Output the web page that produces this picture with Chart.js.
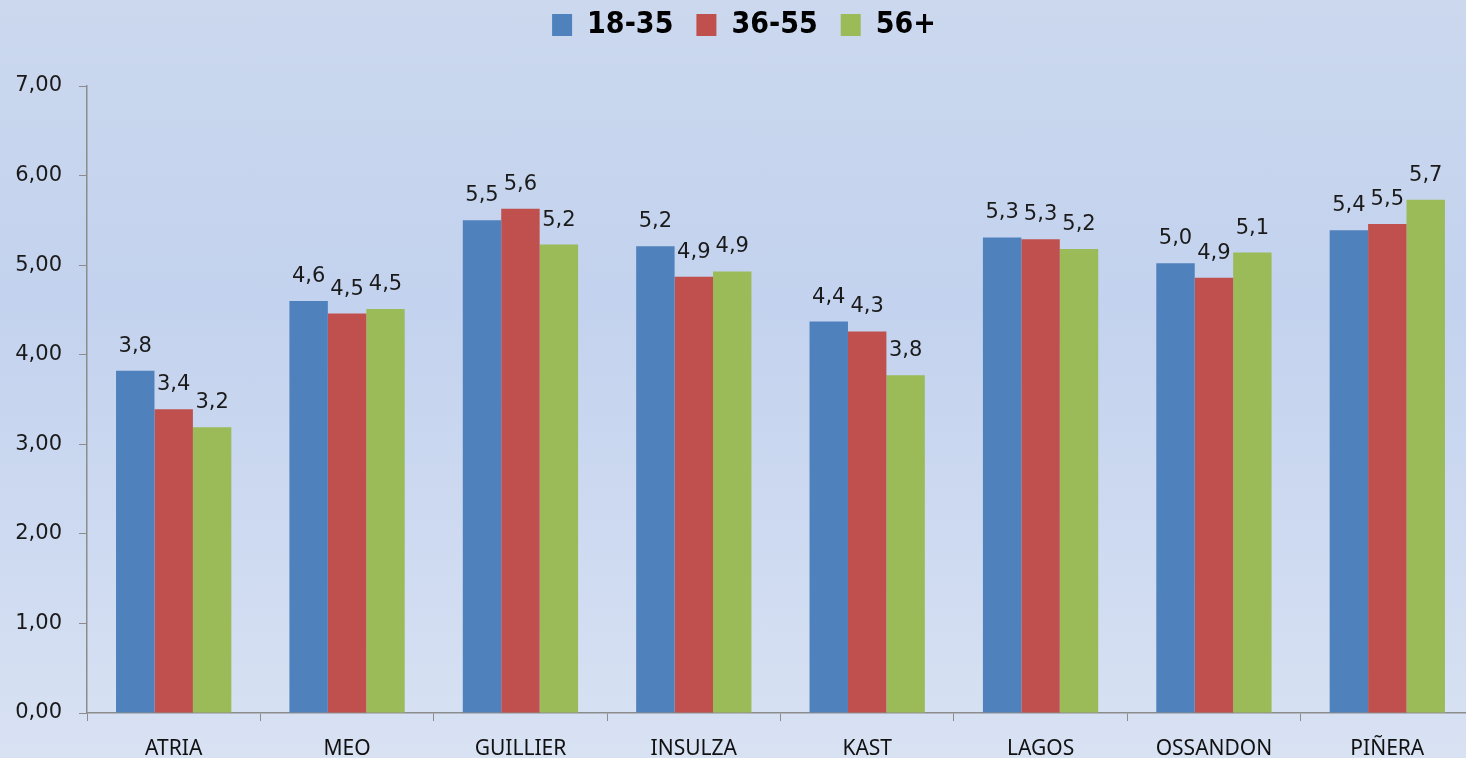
<!DOCTYPE html>
<html>
<head>
<meta charset="utf-8">
<script src="https://cdn.jsdelivr.net/npm/chart.js@4.4.0/dist/chart.umd.min.js"></script>
<style>
  html, body { margin: 0; padding: 0; overflow: hidden; }
  body {
    width: 1466px; height: 758px;
    background: linear-gradient(to bottom, #cbd8ee 0%, #c3d2ee 40%, #cfdbf1 75%, #d8e2f3 100%);
  }
  #wrap { width: 1474px; height: 758px; position: relative; }
</style>
</head>
<body>
<div id="wrap"><canvas id="chart"></canvas></div>
<script>
// candidates and the three age groups
const categories = ['ATRIA', 'MEO', 'GUILLIER', 'INSULZA', 'KAST', 'LAGOS', 'OSSANDON', 'PIÑERA'];
const seriesNames = ['18-35', '36-55', '56+'];
const young = [3.82, 4.60, 5.50, 5.21, 4.37, 5.31, 5.02, 5.39];
const middle = [3.39, 4.46, 5.63, 4.87, 4.26, 5.29, 4.86, 5.46];
const older = [3.19, 4.51, 5.23, 4.93, 3.77, 5.18, 5.14, 5.73];
const yTicks = [0, 1, 2, 3, 4, 5, 6, 7];

const colors = ['#4f81bd', '#c0504d', '#9bbb59'];

function comma(v, d) {
    return v.toFixed(d).replace('.', ',');
}

// draws the value above every bar
const valueLabels = {
    id: 'valueLabels',
    afterDatasetsDraw(chart) {
        const ctx = chart.ctx;
        ctx.save();
        ctx.font = '21px "DejaVu Sans"';
        ctx.fillStyle = '#1a1a1a';
        ctx.textAlign = 'center';
        ctx.textBaseline = 'alphabetic';
        chart.data.datasets.forEach((ds, i) => {
            chart.getDatasetMeta(i).data.forEach((bar, j) => {
                ctx.fillText(comma(ds.data[j], 1), bar.x, bar.y - 19);
            });
        });
        ctx.restore();
    }
};

let ctx = document.getElementById('chart').getContext('2d');
new Chart(ctx, {
    type: 'bar',
    data: {
        labels: categories,
        datasets: [young, middle, older].map((d, i) => ({
            label: seriesNames[i],
            data: d,
            backgroundColor: colors[i],
            borderWidth: 0,
            categoryPercentage: 0.665,
            barPercentage: 1.0
        }))
    },
    options: {
        responsive: true,
        maintainAspectRatio: false,
        animation: false,
        layout: { padding: { top: -13, left: 14, right: 0, bottom: 0 } },
        plugins: {
            tooltip: { enabled: false },
            legend: {
                position: 'top',
                labels: {
                    boxWidth: 20,
                    boxHeight: 22,
                    padding: 23,
                    color: '#000',
                    font: { family: '"DejaVu Sans Condensed", "DejaVu Sans"', size: 30, weight: 'bold' }
                }
            },
            // empty spacer between legend and plot
            title: {
                display: true,
                text: '',
                weight: 500,
                padding: 0,
                font: { size: 36, lineHeight: 1 }
            }
        },
        scales: {
            x: {
                grid: { display: true, drawOnChartArea: false, tickLength: 8, color: '#8c8c8c' },
                border: { color: '#8c8c8c', width: 1.5 },
                ticks: {
                    color: '#111',
                    padding: 15,
                    font: { family: '"Noto Sans"', size: 21 }
                },
                afterFit(scale) { scale.height = 45; }
            },
            y: {
                min: 0,
                max: 7,
                afterBuildTicks(scale) { scale.ticks = yTicks.map(v => ({ value: v })); },
                grid: { display: true, drawOnChartArea: false, tickLength: 8, color: '#8c8c8c' },
                border: { color: '#8c8c8c', width: 1.5 },
                ticks: {
                    color: '#1a1a1a',
                    padding: 17,
                    font: { family: '"DejaVu Sans"', size: 21 },
                    callback: v => comma(v, 2)
                },
                afterFit(scale) { scale.width = 73; }
            }
        }
    },
    plugins: [valueLabels]
});
</script>
</body>
</html>
